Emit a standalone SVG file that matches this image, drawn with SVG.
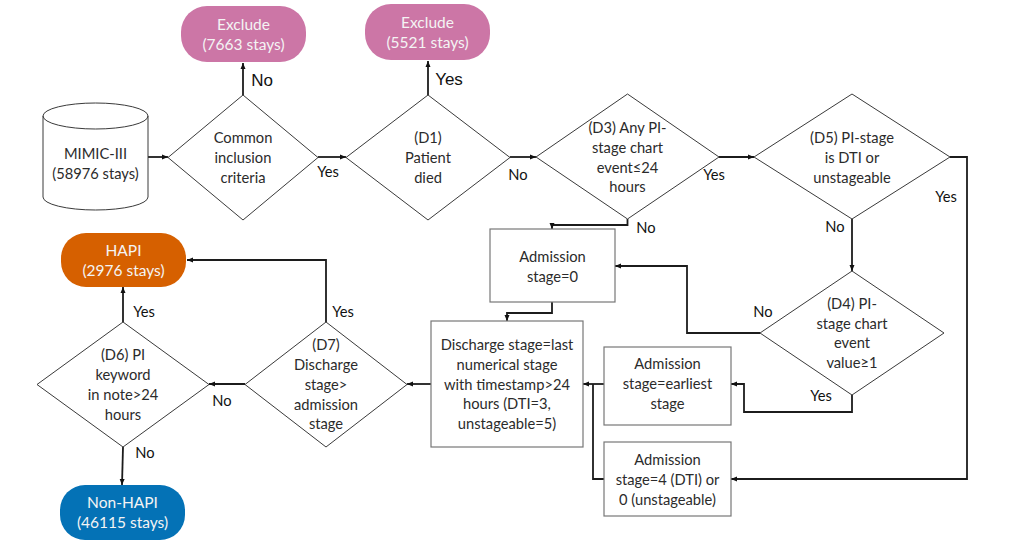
<svg xmlns="http://www.w3.org/2000/svg" width="1027" height="550" viewBox="0 0 1027 550">
<style>
text{font-family:Lato,"Open Sans",sans-serif;font-size:14.7px;fill:#2b2b2b;text-anchor:middle}
text.w{fill:#f4f4f4;font-size:15.5px}
.shape{fill:#fff;stroke:#3a3a3a;stroke-width:1}
.box{fill:#fff;stroke:#777;stroke-width:1.2}
.c{fill:none;stroke:#1c1c1c;stroke-width:1.8;marker-end:url(#a)}
.c2{fill:none;stroke:#1c1c1c;stroke-width:1.8}
text.l{fill:#111}
text.a{font-family:"Liberation Sans",Arial,sans-serif;font-size:17px;fill:#111}
</style>
<defs><marker id="a" markerUnits="userSpaceOnUse" markerWidth="7" markerHeight="7" refX="6" refY="3" orient="auto"><path d="M0,0.5L6,3L0,5.500Z" fill="#111"/></marker></defs>
<rect width="1027" height="550" fill="#fff"/>
<g id="connectors">
<path class="c" d="M148,157H168"/>
<path class="c" d="M243,95V63"/>
<path class="c" d="M318,157H346"/>
<path class="c" d="M428,95V61"/>
<path class="c" d="M510,157H536"/>
<path class="c" d="M719,157H754"/>
<path class="c" d="M627.500,219V225H552V229"/>
<path class="c" d="M852,219V271"/>
<path class="c" d="M950,157H967V479H731"/>
<path class="c" d="M760,333H687V266H615"/>
<path class="c" d="M852,395V412H744V384H731"/>
<path class="c" d="M604,384H583"/>
<path class="c2" d="M604,479H593V384"/>
<path class="c" d="M552,302V313H507V321"/>
<path class="c" d="M431,384H407"/>
<path class="c" d="M245,384H209"/>
<path class="c" d="M326,322V260H187"/>
<path class="c" d="M123,322V287"/>
<path class="c" d="M123,447L122,485"/>
</g>
<g id="labels">
<text class="a" x="262" y="86">No</text>
<text class="a" x="449" y="85">Yes</text>
<text class="l" x="328" y="177">Yes</text>
<text class="l" x="518" y="180">No</text>
<text class="l" x="714" y="180">Yes</text>
<text class="l" x="946" y="202">Yes</text>
<text class="l" x="646" y="233">No</text>
<text class="l" x="835" y="232">No</text>
<text class="l" x="763" y="317">No</text>
<text class="l" x="821" y="401">Yes</text>
<text class="l" x="343" y="317">Yes</text>
<text class="l" x="144" y="317">Yes</text>
<text class="l" x="222" y="406">No</text>
<text class="l" x="145" y="458">No</text>
</g>
<g id="exclude1"><rect x="181" y="6" width="125" height="56" rx="26" fill="#cc76a6"/><text class="w" x="243.500" y="30">Exclude</text><text class="w" x="243.500" y="49.500">(7663 stays)</text></g>
<g id="exclude2"><rect x="365" y="4" width="125" height="56" rx="26" fill="#cc76a6"/><text class="w" x="427.500" y="28">Exclude</text><text class="w" x="427.500" y="47.500">(5521 stays)</text></g>
<g id="mimic"><path class="shape" d="M43,116V197A52.500,13 0 0 0 148,197V116A52.500,13 0 0 0 43,116A52.500,13 0 0 0 148,116"/><text x="95.500" y="159">MIMIC-III</text><text x="95.500" y="178.500">(58976 stays)</text></g>
<g id="common"><path class="shape" d="M243,95L318,157.500L243,220L168,157.500Z"/><text x="243" y="143">Common</text><text x="243" y="162.500">inclusion</text><text x="243" y="182.500">criteria</text></g>
<g id="d1"><path class="shape" d="M428,95L510,157.500L428,220L346,157.500Z"/><text x="428" y="143">(D1)</text><text x="428" y="162.500">Patient</text><text x="428" y="182.500">died</text></g>
<g id="d3"><path class="shape" d="M627.500,94L719,157L627.500,219L536,157Z"/><text x="627.500" y="133">(D3) Any PI-</text><text x="627.500" y="153">stage chart</text><text x="627.500" y="172.500">event≤24</text><text x="627.500" y="192">hours</text></g>
<g id="d5"><path class="shape" d="M852,94L950,157L852,219L754,157Z"/><text x="852" y="143">(D5) PI-stage</text><text x="852" y="162.500">is DTI or</text><text x="852" y="182.500">unstageable</text></g>
<g id="d4"><path class="shape" d="M852,271L944,333L852,395L760,333Z"/><text x="852" y="309">(D4) PI-</text><text x="852" y="328.500">stage chart</text><text x="852" y="348">event</text><text x="852" y="367.500">value≥1</text></g>
<g id="adm0"><rect class="box" x="490" y="229" width="125" height="73"/><text x="552.500" y="262">Admission</text><text x="552.500" y="281.500">stage=0</text></g>
<g id="discharge"><rect class="box" x="431" y="321" width="152" height="126"/><text x="507" y="350">Discharge stage=last</text><text x="507" y="370">numerical stage</text><text x="507" y="389.500">with timestamp&gt;24</text><text x="507" y="409">hours (DTI=3,</text><text x="507" y="429">unstageable=5)</text></g>
<g id="adm-earliest"><rect class="box" x="604" y="347" width="127" height="78"/><text x="667.500" y="369">Admission</text><text x="667.500" y="389">stage=earliest</text><text x="667.500" y="409">stage</text></g>
<g id="adm-dti"><rect class="box" x="604" y="442" width="127" height="74"/><text x="667.500" y="465">Admission</text><text x="667.500" y="485">stage=4 (DTI) or</text><text x="667.500" y="504.500">0 (unstageable)</text></g>
<g id="d7"><path class="shape" d="M326,322L407,384.500L326,447L245,384.500Z"/><text x="326" y="350">(D7)</text><text x="326" y="370">Discharge</text><text x="326" y="390">stage&gt;</text><text x="326" y="409.500">admission</text><text x="326" y="429">stage</text></g>
<g id="d6"><path class="shape" d="M123,322L209,384.500L123,447L37,384.500Z"/><text x="123" y="360">(D6) PI</text><text x="123" y="380">keyword</text><text x="123" y="400">in note&gt;24</text><text x="123" y="419.500">hours</text></g>
<g id="hapi"><rect x="61" y="233" width="125" height="54" rx="25" fill="#d66000"/><text class="w" x="123.500" y="256">HAPI</text><text class="w" x="123.500" y="275.500">(2976 stays)</text></g>
<g id="nonhapi"><rect x="60" y="485" width="125" height="55" rx="25" fill="#0472b6"/><text class="w" x="122.500" y="508">Non-HAPI</text><text class="w" x="122.500" y="528">(46115 stays)</text></g>
</svg>
